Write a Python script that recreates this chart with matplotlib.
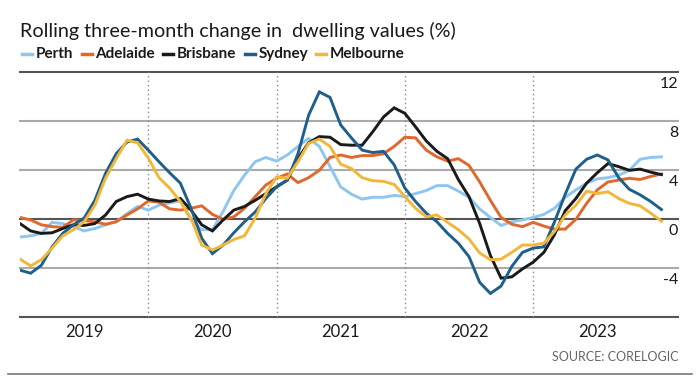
import matplotlib
matplotlib.use("Agg")
import matplotlib.pyplot as plt
from matplotlib.lines import Line2D
import numpy as np

plt.rcParams["font.family"] = ["Lato", "DejaVu Sans"]

# monthly, Jan 2019 .. Jan 2024
YEARS = ["2019", "2020", "2021", "2022", "2023"]
YTICKS = [12, 8, 4, 0, -4]

perth = [-1.5, -1.4, -1.2, -0.3, -0.4, -0.65, -1.0, -0.8, -0.5, -0.25,
         0.4, 1.0, 0.7, 1.1, 1.3, 1.45, -0.1, -0.9, -0.9, 0.6,
         2.3, 3.55, 4.65, 5.0, 4.7, 5.2, 5.9, 6.55, 5.9, 4.25,
         2.6, 2.0, 1.6, 1.75, 1.75, 1.9, 1.8, 2.05, 2.3, 2.7,
         2.7, 2.25, 1.75, 0.8, 0.1, -0.55, -0.25, -0.1, 0.1, 0.35,
         0.85, 1.75, 2.35, 2.9, 3.25, 3.35, 3.55, 3.95, 4.85, 5.0, 5.05]
adelaide = [0.1, -0.1, -0.5, -0.65, -0.7, -0.1, -0.15, -0.25, -0.45, -0.25,
            0.3, 0.8, 1.45, 1.35, 0.8, 0.7, 0.85, 1.05, 0.35, -0.05,
            0.15, 0.85, 1.8, 2.75, 3.3, 3.65, 2.95, 3.35, 3.95, 5.0,
            5.2, 5.0, 5.15, 5.15, 5.3, 5.9, 6.65, 6.6, 5.6, 5.05,
            4.7, 4.9, 4.35, 3.0, 1.5, 0.1, -0.45, -0.65, -0.3, -0.6,
            -0.85, -0.85, -0.05, 1.25, 2.35, 3.0, 3.15, 3.3, 3.2, 3.45, 3.65]
brisbane = [-0.4, -1.0, -1.2, -1.15, -0.8, -0.5, -0.55, -0.4, 0.3, 1.4,
            1.8, 2.0, 1.6, 1.45, 1.4, 1.65, 0.7, -0.5, -1.0, -0.1,
            0.7, 1.0, 1.5, 2.05, 2.6, 3.15, 4.9, 6.2, 6.7, 6.65,
            6.05, 6.0, 6.0, 7.1, 8.3, 9.05, 8.6, 7.5, 6.35, 5.5,
            4.9, 3.2, 1.8, -0.4, -3.0, -4.85, -4.75, -4.1, -3.55, -2.75,
            -1.3, 0.65, 1.65, 2.9, 3.75, 4.5, 4.25, 3.95, 4.05, 3.8, 3.6]
sydney = [-4.2, -4.45, -3.8, -2.3, -1.2, -0.5, 0.05, 1.5, 3.7, 5.3,
          6.25, 6.5, 5.6, 4.65, 3.75, 2.9, 0.85, -1.6, -2.85, -2.15,
          -1.15, -0.25, 0.55, 1.65, 2.6, 3.15, 5.3, 8.45, 10.35, 9.9,
          7.65, 6.6, 5.6, 5.4, 5.5, 4.4, 2.5, 1.4, 0.45, -0.25,
          -1.2, -2.0, -3.1, -5.2, -6.1, -5.5, -3.9, -2.75, -2.4, -2.3,
          -0.25, 2.0, 4.05, 4.85, 5.2, 4.8, 3.35, 2.4, 1.95, 1.4, 0.75]
melbourne = [-3.3, -3.85, -3.35, -2.4, -1.4, -0.9, -0.25, 1.1, 3.3, 4.9,
             6.4, 6.2, 4.95, 3.35, 2.5, 1.4, 0.0, -2.15, -2.55, -2.15,
             -1.7, -1.4, 0.05, 2.05, 3.4, 3.3, 4.65, 6.15, 6.5, 5.9,
             4.45, 4.1, 3.35, 3.1, 3.05, 2.8, 1.8, 0.85, 0.15, 0.3,
             -0.3, -0.9, -1.65, -2.8, -3.35, -3.3, -2.75, -2.15, -2.15, -2.0,
             -1.05, 0.3, 1.1, 2.25, 2.05, 2.2, 1.65, 1.25, 1.05, 0.45, -0.2]

SERIES = [
    ("Perth", perth, "#8ec6f0"),
    ("Adelaide", adelaide, "#e0682c"),
    ("Brisbane", brisbane, "#1a1a1a"),
    ("Sydney", sydney, "#1e5f8c"),
    ("Melbourne", melbourne, "#f2b73a"),
]

W, H = 700, 390
fig = plt.figure(figsize=(W / 100, H / 100), dpi=100)
ax = fig.add_axes([20 / W, 1 - 316.7 / H, 658 / W, 245 / H])

months = np.arange(len(perth))
for name, vals, col in SERIES:
    ax.plot(months, vals, color=col, lw=2.1, zorder=3, solid_joinstyle="miter")

ax.set_xlim(0, 61.55)
ax.set_ylim(-8, 12)

# horizontal guides
for v in [12, 8, 4, 0, -4, -8]:
    c = "#555555" if v in (12, 0, -8) else "#aaaaaa"
    ax.axhline(v, color=c, lw=1.5, zorder=1, clip_on=False)

# year boundaries
for b in [12, 24, 36, 48]:
    ax.axvline(b, color="#888888", lw=1.0, ls=(0, (1, 2.2)), zorder=1)

for v in YTICKS:
    ax.annotate(str(v), xy=(1, v), xycoords=("axes fraction", "data"),
                xytext=(0, -3.5), textcoords="offset points",
                ha="right", va="top", fontsize=11.5, color="#1a1a1a")

ax.set_xticks([6, 18, 30, 42, 54], YEARS)
ax.tick_params(axis="x", length=0, pad=5, labelsize=12, labelcolor="#1a1a1a")
ax.set_yticks([])
for s in ax.spines.values():
    s.set_visible(False)

fig.text(20 / W, 1 - 31 / H, "Rolling three-month change in  dwelling values (%)",
         fontsize=14.2, va="center", ha="left", color="#1a1a1a")

# legend row
renderer = fig.canvas.get_renderer()
x = 22
y = 1 - 54 / H
for name, vals, col in SERIES:
    fig.add_artist(Line2D([x / W, (x + 10) / W], [y, y], color=col, lw=2.5,
                          transform=fig.transFigure))
    t = fig.text((x + 14) / W, y, name, fontsize=11, fontweight="bold",
                 va="center", ha="left", color="#1a1a1a")
    bb = t.get_window_extent(renderer)
    x = bb.x1 + 8

fig.text(678 / W, 1 - 357 / H, "SOURCE: CORELOGIC", ha="right", va="center",
         fontsize=9, color="#666666")
fig.add_artist(Line2D([8 / W, 692 / W], [1 - 374 / H] * 2, color="#777777",
                      lw=1.2, transform=fig.transFigure))

fig.savefig("out.png", dpi=100)
